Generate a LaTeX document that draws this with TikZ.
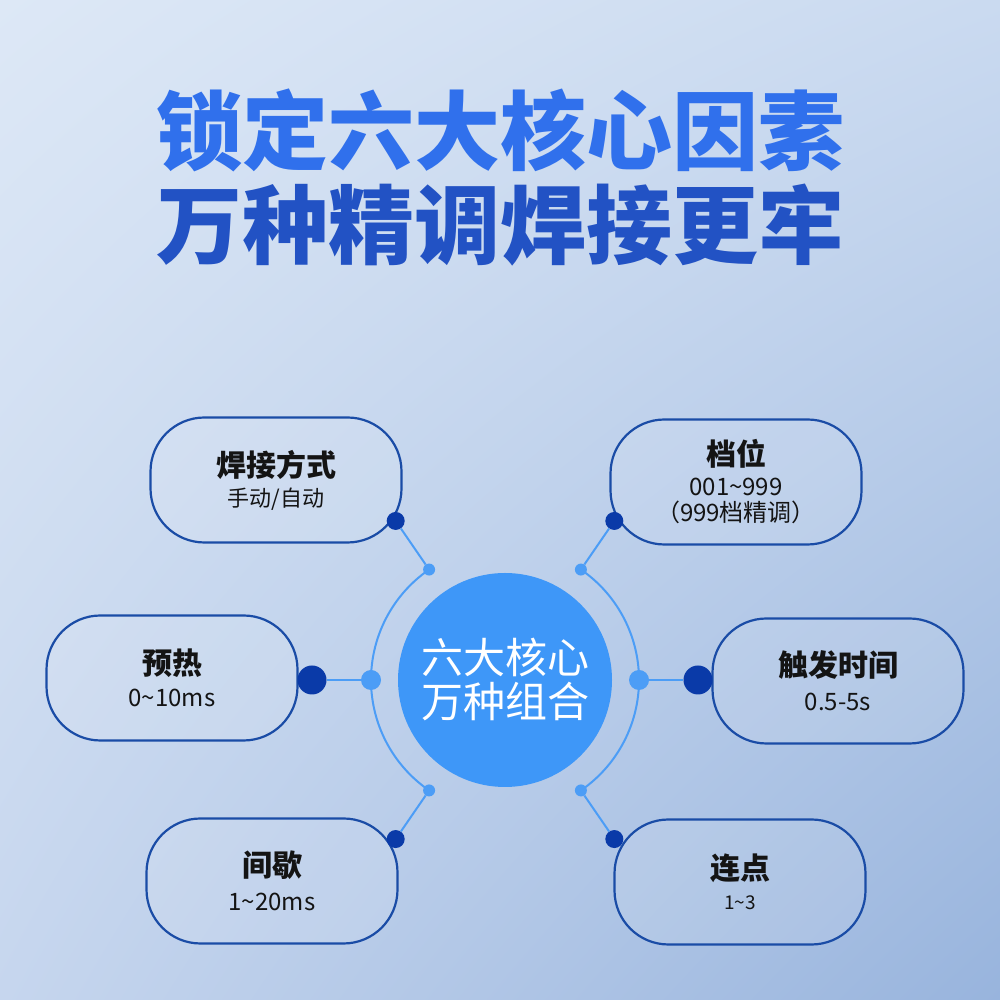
\documentclass[tikz,border=0pt]{standalone}
\usepackage{fontspec}
\setmainfont{Noto Sans CJK SC}
\usetikzlibrary{positioning,shadings}
\definecolor{bgtl}{RGB}{221,232,246}
\definecolor{bgtr}{RGB}{202,218,240}
\definecolor{bgbl}{RGB}{198,214,238}
\definecolor{bgbr}{RGB}{152,180,221}
\definecolor{headA}{RGB}{48,112,236}
\definecolor{headB}{RGB}{34,82,196}
\definecolor{core}{RGB}{62,151,248}
\definecolor{ringblue}{RGB}{76,157,246}
\definecolor{deep}{RGB}{10,58,168}
\definecolor{boxline}{RGB}{26,76,166}

\begin{document}
\begin{tikzpicture}[x=1pt,y=1pt,
  headline/.style={font=\fontsize{86}{96}\selectfont\bfseries},
  item/.style={draw=boxline,line width=2.2pt,rounded corners=54pt,fill=white,
    fill opacity=0.1,text opacity=1,minimum width=251pt,minimum height=125pt,
    align=center,text=black!92,font=\fontsize{24}{34}\selectfont},
  knob/.style={circle,fill=deep,inner sep=0pt,minimum size=#1},
  pin/.style={circle,fill=ringblue,inner sep=0pt,minimum size=#1},
  link/.style={ringblue,line width=2pt},
  ring/.style={ringblue,line width=2pt}]
  % background
  \useasboundingbox (0,0) rectangle (1000,1000);
  \shade[upper left=bgtl,upper right=bgtr,lower left=bgbl,lower right=bgbr]
    (0,0) rectangle (1000,1000);
  % title
  \node[headline,text=headA] (head1) at (500,870) {锁定六大核心因素};
  \node[headline,text=headB] (head2) at (500,775) {万种精调焊接更牢};
  % boxes
  \node[item] (weld) at (276,520) {{\fontsize{30}{36}\selectfont\bfseries 焊接方式}\\[-4pt]
    {\fontsize{22}{30}\selectfont 手动/自动}};
  \node[item] (gear) at (736,518) {{\fontsize{30}{36}\selectfont\bfseries 档位}\\[-4pt]
    001\textasciitilde999\\[-8pt] （999档精调）};
  \node[item] (heat) at (172,322) {{\fontsize{30}{36}\selectfont\bfseries 预热}\\[-2pt]
    0\textasciitilde10ms};
  \node[item] (pause) at (272,119) {{\fontsize{30}{36}\selectfont\bfseries 间歇}\\[0pt]
    1\textasciitilde20ms};
  \node[item] (trig) at (838,319) {{\fontsize{30}{36}\selectfont\bfseries 触发时间}\\[0pt]
    0.5-5s};
  \node[item] (rep) at (740,118) {{\fontsize{30}{36}\selectfont\bfseries 连点}\\[-4pt]
    {\fontsize{19}{26}\selectfont 1\textasciitilde3}};
  % core
  \node[circle,fill=core,minimum size=214pt,inner sep=0pt,align=center,text=white,
    font=\fontsize{42}{44}\selectfont] (ctr) at (505,320) {六大核心\\万种组合};
  \draw[ring] (ctr.center) ++(124.5:134) arc[start angle=124.5,end angle=235.5,radius=134];
  \draw[ring] (ctr.center) ++(-55.5:134) arc[start angle=-55.5,end angle=55.5,radius=134];
  % pins and knobs
  \foreach \n/\a/\s/\k in {tl/124.5/12/18,tr/55.5/12/18,bl/235.5/12/18,br/-55.5/12/18,
      ml/180/20/29,mr/0/20/29} {
    \node[pin=\s pt] (p\n) at ([shift={(\a:134)}]505,320) {};
    \node[knob=\k pt] (k\n) at ([shift={(\a:193)}]505,320) {};
    \draw[link] (p\n) -- (k\n);
  }
\end{tikzpicture}
\end{document}
